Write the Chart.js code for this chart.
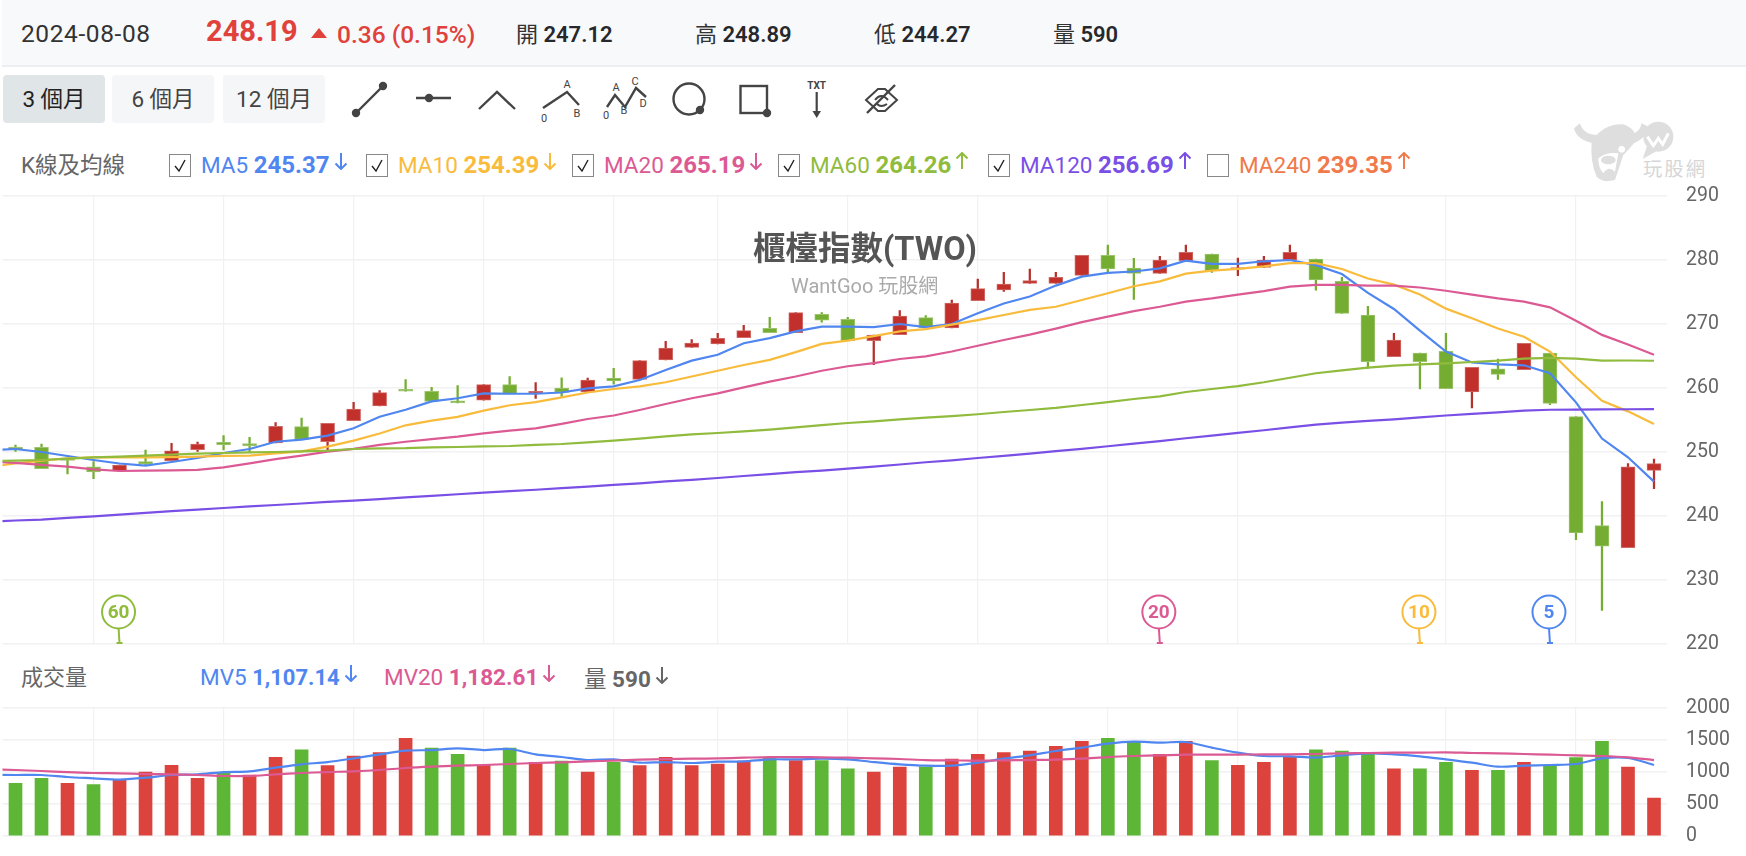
<!DOCTYPE html>
<html>
<head>
<meta charset="utf-8">
<script src="https://cdn.jsdelivr.net/npm/chart.js@4"></script>
<style>
  html, body { margin: 0; background: #fff; overflow: hidden; }
  body { width: 1746px; height: 856px; position: relative; font-family: Roboto, "Noto Sans CJK TC", sans-serif; color: #333; }
  #head { position: absolute; left: 2px; top: 0; width: 1744px; height: 65px; background: #f8f9fb; border-bottom: 2px solid #eceef1; }
  .t { position: absolute; white-space: nowrap; transform: translateY(-50%); }
  .btn { position: absolute; top: 75px; height: 48px; line-height: 48px; text-align: center; font-size: 22.5px; background: #f5f6f8; border-radius: 4px; color: #444; }
  .chk { position: absolute; top: 154px; width: 20px; height: 21px; border: 1px solid #888; background: #fff; }
  canvas { position: absolute; left: 0; }
  svg { position: absolute; left: 0; top: 0; }
</style>
</head>
<body>
<div id="head"></div>
<div class="t" style="left:21px;top:33px;font-size:24.5px;letter-spacing:.6px;color:#333">2024-08-08</div>
<div class="t" style="left:206px;top:31px;font-size:29px;font-weight:700;color:#e0413b">248.19</div>
<div class="t" style="left:337px;top:34px;font-size:24.5px;font-weight:500;color:#e0413b">0.36 (0.15%)</div>
<div class="t" style="left:516px;top:32px;font-size:22px">開 <b style="color:#26282c;font-weight:600">247.12</b></div>
<div class="t" style="left:695px;top:32px;font-size:22px">高 <b style="color:#26282c;font-weight:600">248.89</b></div>
<div class="t" style="left:874px;top:32px;font-size:22px">低 <b style="color:#26282c;font-weight:600">244.27</b></div>
<div class="t" style="left:1053px;top:32px;font-size:22px">量 <b style="color:#26282c;font-weight:600">590</b></div>

<div class="btn" style="left:3px;width:102px;background:#e0e5e8;color:#222">3 個月</div>
<div class="btn" style="left:112px;width:102px">6 個月</div>
<div class="btn" style="left:223px;width:102px">12 個月</div>

<svg width="1746" height="856" fill="none" stroke="#444" stroke-width="2.4">
  <path d="M356 113L383 86"/><circle cx="356" cy="113" r="3" fill="#444"/><circle cx="383" cy="86" r="3" fill="#444"/>
  <path d="M416 98H451"/><circle cx="429" cy="98" r="3" fill="#444"/>
  <path d="M479 109L497 92L515 109"/>
  <path d="M543 108L567 92L579 105"/>
  <path d="M607 107L615 95L625 107L636 88L646 97"/>
  <circle cx="689" cy="99" r="15.5"/><circle cx="700" cy="110" r="3" fill="#444"/>
  <rect x="740.5" y="86" width="26.5" height="27"/><circle cx="767" cy="113" r="3" fill="#444"/>
  <path d="M816.7 92V112" stroke-width="2.2"/><path d="M812.5 111H821L816.7 118Z" fill="#444" stroke="none"/>
  <path d="M866 100L878 89H885L897 100L885 111H878Z M875 100Q881 92 888 100M877 104Q881 108 887 104" stroke-width="2"/>
  <path d="M867 113L895 85" stroke-width="2.4"/>
  <g fill="#444" stroke="none" font-size="11" text-anchor="middle">
    <text x="567" y="88">A</text><text x="544" y="122">0</text><text x="577" y="117">B</text>
    <text x="616" y="91">A</text><text x="606" y="119">0</text><text x="624" y="114">B</text><text x="635" y="85">C</text><text x="643" y="107">D</text>
    <text x="816.7" y="89" font-size="10" font-weight="700">TXT</text>
  </g>
  <path d="M311 38L319 28L327 38H311Z" fill="#e0413b" stroke="none"/>
  <g transform="translate(1560 105) scale(.3333)" stroke="none" fill="#dedede">
    <path d="M42 70Q50 105 100 115L112 90Q70 90 60 55Z"/>
    <path d="M245 55Q240 85 205 90L222 115Q258 100 265 65Z"/>
    <path d="M95 110Q130 55 190 58Q235 75 225 110Q210 130 190 150L165 225Q130 235 110 215Q90 170 95 110Z"/>
    <path d="M115 160Q140 140 175 145L165 200Q145 180 130 205Q115 190 115 160Z" fill="#fff"/>
    <ellipse cx="145" cy="165" rx="22" ry="13"/>
    <circle cx="185" cy="133" r="10" fill="#fff"/>
    <circle cx="295" cy="95" r="45"/>
    <path d="M262 120L248 162L290 138Z"/>
    <path d="M262 95L280 122L295 100L308 118L325 85" fill="none" stroke="#fff" stroke-width="9"/>
    <text x="345" y="213" font-size="58" letter-spacing="6" text-anchor="middle" fill="#d6d6d6">玩股網</text>
  </g>
</svg>

<div class="t" style="left:21px;top:163px;font-size:22.5px;color:#666">K線及均線</div>
<div id="legend"></div>
<div class="t" style="left:21px;top:675px;font-size:22px;color:#666">成交量</div>
<div id="volLegend"></div>

<canvas id="price" width="1746" height="480" style="top:181px;width:1746px;height:480px"></canvas>
<canvas id="volume" width="1746" height="160" style="top:691px;width:1746px;height:160px"></canvas>
<div class="t" style="left:753px;top:245px;font-size:32.5px;font-weight:700;color:#555">櫃檯指數(TWO)</div>
<div class="t" style="left:791px;top:284px;font-size:20px;color:#aaa">WantGoo 玩股網</div>

<script>
// candles, one value per trading day (index 0 to 63)
const open = [250.73,250.73,249.0,247.7,247.08,248.49,248.65,250.36,251.5,251.3,251.4,253.96,251.6,254.9,257.19,259.8,259.48,258.0,258.1,260.52,259.17,260.0,259.4,261.56,261.35,264.37,266.35,266.9,267.86,269.32,268.65,271.5,270.73,267.4,268.33,270.99,269.38,273.65,275.31,276.35,276.35,277.6,280.73,278.75,277.9,279.9,280.94,278.55,278.85,280,280.16,276.67,271.4,264.9,265.47,265.73,259.38,263.0,262.87,265.47,255.52,238.49,235.05,247.12];
const close = [250.31,247.4,248.7,246.87,247.97,248.13,250.2,251.25,251.15,251.0,254.0,251.98,254.48,256.7,259.27,259.5,257.9,257.66,260.52,259.06,259.48,259.3,261.25,261.09,264.27,266.25,267.03,267.76,268.96,268.65,271.77,270.6,267.4,268.28,271.25,269.38,273.28,275.52,276.25,276.77,277.3,280.73,278.6,277.9,280,281.2,278.33,278.8,280,281.2,276.87,271.67,264.1,267.5,264.1,259.9,263.23,262.13,266.98,257.6,237.34,235.3,247.7,248.19];
const high = [251.09,251.25,249.06,248.5,247.97,250.31,251.35,251.56,252.55,252.3,254.6,255.3,254.48,257.76,259.6,261.3,260.1,260.36,260.52,261.8,260.83,261.6,261.56,263.07,264.27,267.3,267.55,268.54,269.8,271.04,271.77,271.8,271.04,268.28,272.08,271.3,273.75,277.03,278.07,278.6,278.07,280.73,282.34,280.26,280.57,282.34,280.94,280.3,280.57,282.34,280.16,277.3,272.76,268.54,265.47,268.54,263.23,264.53,266.98,265.47,255.52,242.24,248.2,248.89];
const low = [250.1,247.4,246.56,245.83,247.08,248.0,248.55,250.1,250.31,249.95,251.4,251.98,250.36,254.9,257.19,259.5,257.9,257.66,258.1,259.06,258.39,258.7,259.4,260.6,261.35,264.37,266.35,266.9,267.86,268.65,268.65,270.3,267.4,263.65,268.33,269.38,269.38,273.65,275.1,276.35,276.35,277.6,278.07,273.85,277.9,279.9,278.07,277.55,278.85,280,275.3,271.67,263.1,264.9,259.84,259.9,256.88,261.35,262.87,257.4,236.3,225.26,235.05,244.27];

// moving averages: first value sits half a day left of the plot, then one per day
const ma5 = [250.3,250.47,250,249.38,248.75,248.2,247.86,248.44,249.06,249.84,250.47,251.6,251.93,252.55,253.7,255.5,256.6,257.9,258.4,259.17,259.1,259.1,259.3,259.95,260.26,261.25,262.8,264.27,265.2,267,267.8,268.85,269.6,269.6,269.5,270,269.5,270,271.67,273.2,274.3,276,277.4,278,278.2,278.7,279.9,279.4,279.4,279.8,280,279.2,277.8,274.85,272.35,268.96,265.7,264,263.7,263.55,262.3,257.76,252.1,249.17,245.37];
const ma10 = [247.7,248.23,248.65,249,249.17,249.17,249.17,249.2,249.27,249.4,249.43,249.8,250.1,250.83,251.77,252.9,254.17,254.9,255.5,256.46,257.3,257.8,258.54,259.3,259.84,260.26,260.9,261.8,262.7,263.6,264.4,265.6,266.9,267.4,268.1,268.85,269.2,269.9,270.6,271.4,272.2,272.7,273.75,274.8,275.9,276.67,277.86,278.33,278.6,279,279.5,279.5,278.6,277.1,276.15,274.6,272.4,270.9,269.3,268,265.7,261.67,258,256.35,254.39];
const ma20 = [248.5,248.3,248,247.7,247.3,247.03,247.08,247.14,247.2,247.6,248.23,248.9,249.43,250.05,250.5,251.1,251.6,252,252.4,252.9,253.33,253.7,254.4,255.16,255.7,256.56,257.5,258.4,259.17,260.1,261,261.8,262.7,263.4,263.9,264.53,264.95,265.7,266.6,267.5,268.33,269.27,270.3,271.15,272,272.7,273.5,274,274.6,275.15,275.83,276.1,276.1,276,276,275.7,275.2,274.6,274,273.5,272.6,270.5,268.3,266.8,265.19];
const ma60 = [248.6,248.65,248.75,248.96,249.17,249.27,249.43,249.6,249.74,249.84,249.95,250,250.1,250.2,250.47,250.57,250.6,250.73,250.78,250.89,250.94,251.1,251.25,251.5,251.77,252.08,252.45,252.76,252.97,253.23,253.5,253.85,254.2,254.53,254.8,255.1,255.36,255.6,255.9,256.25,256.56,256.9,257.34,257.8,258.28,258.7,259.37,259.84,260.3,260.9,261.6,262.3,262.76,263.18,263.5,263.7,263.85,264.06,264.27,264.58,264.7,264.58,264.27,264.3,264.26];
const ma120 = [239.1,239.3,239.43,239.7,239.95,240.2,240.5,240.75,241,241.25,241.5,241.72,241.95,242.2,242.4,242.65,242.9,243.15,243.4,243.65,243.9,244.1,244.35,244.6,244.85,245.1,245.4,245.65,245.94,246.25,246.55,246.85,247.1,247.4,247.7,248.05,248.4,248.7,249.06,249.4,249.75,250.15,250.5,250.9,251.3,251.7,252.15,252.55,253,253.4,253.85,254.27,254.6,254.85,255.1,255.4,255.7,255.95,256.2,256.45,256.6,256.62,256.65,256.68,256.69];

// volume, one value per day, with its own up/down flag (1 = red, 0 = green)
const vol = [821,899,821,800,873,997,1101,899,977,951,1226,1345,1096,1247,1299,1522,1371,1273,1101,1371,1148,1169,997,1148,1096,1226,1096,1122,1169,1221,1174,1174,1049,997,1075,1075,1200,1273,1299,1325,1397,1475,1522,1475,1273,1475,1174,1101,1148,1226,1345,1325,1273,1049,1049,1148,1023,1023,1148,1101,1221,1475,1075,590];
const volUp = [0,0,1,0,1,1,1,1,0,1,1,0,1,1,1,1,0,0,1,0,1,0,1,0,1,1,1,1,1,0,1,0,0,1,1,0,1,1,1,1,1,1,0,0,1,1,0,1,1,1,0,0,0,1,0,0,1,0,1,0,0,0,1,1];
const mv5 = [955,951,951,920,899,878,909,951,961,997,1008,1065,1117,1153,1210,1273,1330,1340,1366,1340,1356,1273,1231,1184,1195,1143,1153,1138,1158,1164,1195,1195,1205,1195,1153,1117,1096,1096,1143,1205,1257,1325,1377,1439,1470,1455,1465,1377,1299,1247,1242,1221,1257,1288,1273,1242,1195,1143,1081,1096,1107,1122,1210,1216,1107.14];
const mv20 = [1039,1029,1013,997,982,977,966,961,951,935,935,961,982,997,1008,1029,1060,1081,1096,1107,1122,1138,1148,1164,1174,1190,1200,1205,1210,1221,1231,1231,1226,1221,1210,1200,1184,1179,1174,1179,1184,1190,1205,1231,1247,1257,1268,1268,1268,1273,1273,1278,1288,1294,1299,1299,1304,1294,1288,1278,1268,1257,1247,1226,1182.61];

const gridDays = [3,8,13,18,23,27,32,37,42,47,55,60];
const priceTicks = [220,230,240,250,260,270,280,290];

const markerDays = [4,44,54,59];
const markerLabels = ['60','20','10','5'];
const markerColors = ['#90bb3c','#dc5a93','#f8bb3c','#5086f0'];

const legendNames = ['MA5','MA10','MA20','MA60','MA120','MA240'];
const legendValues = ['245.37','254.39','265.19','264.26','256.69','239.35'];
const legendDirs = ['d','d','d','u','u','u'];
const legendColors = ['#5086f0','#f8bb3c','#dc5a93','#90bb3c','#7a4fe6','#f07a4b'];
const legendChecked = [1,1,1,1,1,0];
const legendBoxX = [169,366,572,778,988,1207];

function arrow(dir, color) {
  const p = dir === 'd' ? 'M8 1V17M2.5 11.5L8 17L13.5 11.5' : 'M8 17V1M2.5 6.5L8 1L13.5 6.5';
  return `<svg width="16" height="18" style="position:static;vertical-align:3px;margin-left:3px" fill="none" stroke="${color}" stroke-width="2"><path d="${p}"/></svg>`;
}

let html = '';
legendNames.forEach((n, i) => {
  const c = legendColors[i];
  html += `<div class="chk" style="left:${legendBoxX[i]}px">`;
  if (legendChecked[i]) html += `<svg width="20" height="21" fill="none" stroke="#222" stroke-width="1.4"><path d="M5 11L9 16L15 5"/></svg>`;
  html += `</div><div class="t" style="left:${legendBoxX[i] + 32}px;top:165px;font-size:22.5px;color:${c}">${n} <b style="font-weight:700;font-size:24px">${legendValues[i]}</b>${arrow(legendDirs[i], c)}</div>`;
});
document.getElementById('legend').innerHTML = html;

document.getElementById('volLegend').innerHTML =
  `<div class="t" style="left:200px;top:677px;font-size:22.5px;color:#5086f0">MV5 <b style="font-size:22px">1,107.14</b>${arrow('d', '#5086f0')}</div>` +
  `<div class="t" style="left:384px;top:677px;font-size:22.5px;color:#dc5a93">MV20 <b style="font-size:22.5px">1,182.61</b>${arrow('d', '#dc5a93')}</div>` +
  `<div class="t" style="left:584px;top:677px;font-size:22.5px;color:#666">量 <b>590</b>${arrow('d', '#666')}</div>`;

/*------------------------------------------------------------------*/

const tickFont = { family: 'Roboto', size: 19.5 };

function lineSet(values, color, width, tension) {
  return {
    type: 'line', data: values.map((v, i) => ({ x: i - 1, y: v })), borderColor: color,
    borderWidth: width, pointRadius: 0, tension: tension, order: 1
  };
}

function xAxis() {
  return {
    type: 'linear', min: -0.5, max: 63.5, offset: false,
    afterBuildTicks: s => { s.ticks = gridDays.map(v => ({ value: v })); },
    afterFit: s => { s.height = 0; },
    ticks: { display: false },
    border: { display: false },
    grid: { color: '#f1f1f3', lineWidth: 1.2, drawTicks: false, offset: false }
  };
}

// right axis of fixed width, no extra room above and below the plot for its labels
function fitRightAxis(s) {
  s.width = 79;
  s.paddingTop = 0;
  s.paddingBottom = 0;
}

const markerPlugin = {
  id: 'markers',
  afterDatasetsDraw(chart) {
    const ctx = chart.ctx, sx = chart.scales.x, sy = chart.scales.y;
    markerDays.forEach((d, i) => {
      const x = sx.getPixelForValue(d), bottom = sy.bottom, cy = bottom - 32, c = markerColors[i];
      ctx.save();
      ctx.strokeStyle = c; ctx.fillStyle = c; ctx.lineWidth = 2;
      ctx.beginPath(); ctx.arc(x - 1, cy, 16.5, 0, Math.PI * 2); ctx.stroke();
      ctx.beginPath(); ctx.moveTo(x - 1, cy + 16); ctx.lineTo(x, bottom - 1); ctx.stroke();
      ctx.fillRect(x - 3, bottom - 2, 6, 2);
      ctx.font = '700 19px Roboto'; ctx.textAlign = 'center'; ctx.textBaseline = 'middle';
      ctx.fillText(markerLabels[i], x - 1, cy + 1);
      ctx.restore();
    });
  }
};

const bodyColor = open.map((o, i) => close[i] >= o ? '#c1302a' : '#75ad33');
const edgeColor = open.map((o, i) => close[i] >= o ? '#cf6a66' : '#9cc46d');
const wickColor = open.map((o, i) => close[i] >= o ? '#b5322c' : '#75ad33');

new Chart(document.getElementById('price'), {
  data: {
    datasets: [
      lineSet(ma120, '#7a4fe6', 2.2, 0),
      lineSet(ma60, '#90bb3c', 2.2, 0),
      lineSet(ma20, '#dc5a93', 2.2, 0),
      lineSet(ma10, '#f8bb3c', 2.2, 0),
      lineSet(ma5, '#5086f0', 2.2, 0),
      {
        type: 'bar', data: low.map((v, i) => ({ x: i, y: [v, high[i]] })),
        backgroundColor: wickColor, barThickness: 1.6, grouped: false, order: 3
      },
      {
        type: 'bar', data: open.map((v, i) => ({ x: i, y: [v, close[i]] })),
        backgroundColor: bodyColor, borderColor: edgeColor, borderWidth: 1, borderSkipped: false,
        barThickness: 14, grouped: false, order: 2
      }
    ]
  },
  options: {
    responsive: false, animation: false,
    layout: { padding: { left: 2.5, top: 15, bottom: 17 } },
    plugins: { legend: { display: false }, tooltip: { enabled: false } },
    scales: {
      x: xAxis(),
      y: {
        position: 'right', min: 220, max: 290,
        afterBuildTicks: s => { s.ticks = priceTicks.map(v => ({ value: v })); },
        afterFit: fitRightAxis,
        ticks: { font: tickFont, color: '#666', padding: 19 },
        border: { display: false },
        grid: { color: '#f1f1f3', lineWidth: 1.5, drawTicks: false }
      }
    }
  },
  plugins: [markerPlugin]
});

/*------------------------------------------------------------------*/

new Chart(document.getElementById('volume'), {
  data: {
    datasets: [
      lineSet(mv20, '#dc5a93', 2.2, 0.3),
      lineSet(mv5, '#5086f0', 2.2, 0.3),
      {
        type: 'bar', data: vol.map((v, i) => ({ x: i, y: v })),
        backgroundColor: volUp.map(u => u ? '#dd433d' : '#5db636'),
        barThickness: 13, grouped: false, order: 2
      }
    ]
  },
  options: {
    responsive: false, animation: false,
    layout: { padding: { left: 2.5, top: 16.7, bottom: 15 } },
    plugins: { legend: { display: false }, tooltip: { enabled: false } },
    scales: {
      x: xAxis(),
      y: {
        position: 'right', min: 0, max: 2000,
        afterFit: fitRightAxis,
        ticks: { font: tickFont, color: '#666', padding: 19, stepSize: 500, callback: v => String(v) },
        border: { display: false },
        grid: { color: '#f1f1f3', lineWidth: 1.5, drawTicks: false }
      }
    }
  }
});
</script>
</body>
</html>
